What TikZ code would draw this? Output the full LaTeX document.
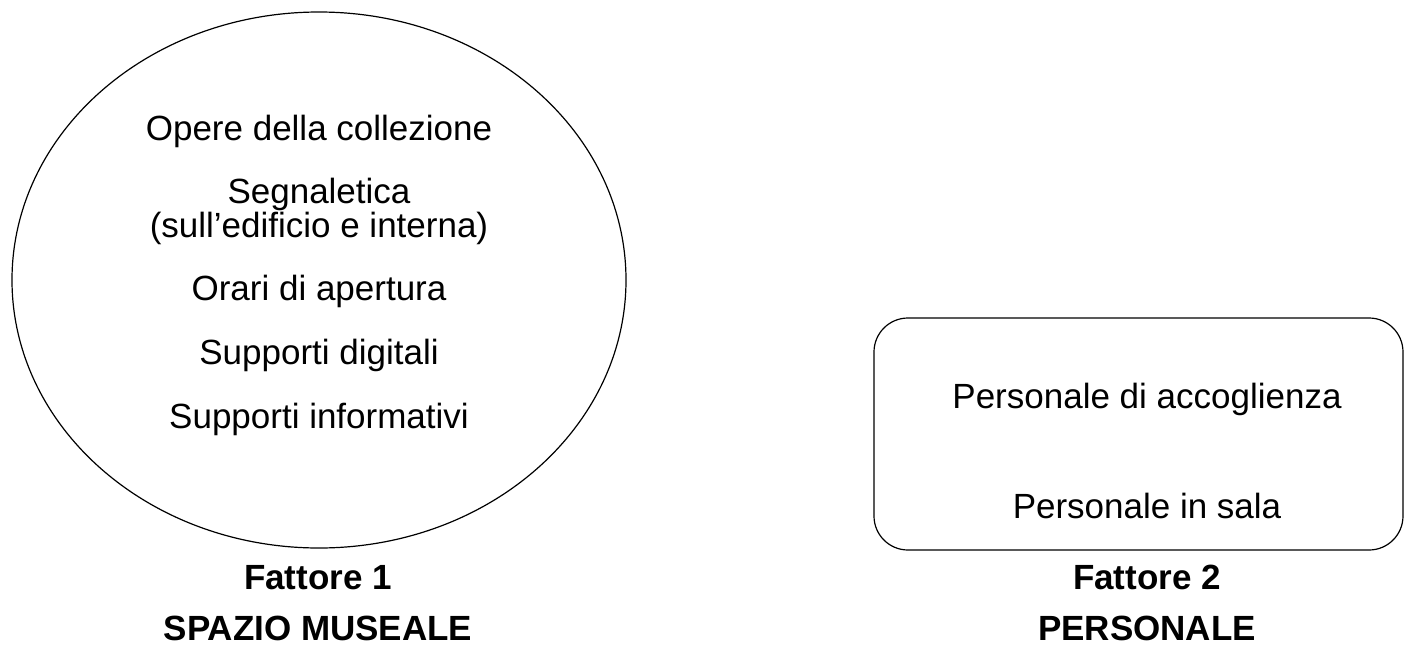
\documentclass[tikz,border=0pt]{standalone}
\usepackage{fontspec}
\setmainfont{Liberation Sans}
\usetikzlibrary{shapes.geometric}

\begin{document}
\begin{tikzpicture}[x=0.5pt,y=-0.5pt,line cap=round,line join=round,
  every node/.style={inner sep=0pt,anchor=base,font=\fontsize{17.5}{19.5}\selectfont},
  voce/.style={align=center},
  titolo/.style={font=\fontsize{17.5}{19.5}\selectfont\bfseries}]
  \useasboundingbox (0,0) rectangle (1405,649);
  % fattore 1
  \node[draw,ellipse,anchor=center,line width=0.6pt,minimum width=307pt,minimum height=268pt] (spazio) at (319,280) {};
  \node[voce] (opere) at (319,140) {Opere della collezione};
  \node[voce] (segnaletica) at (319,203) {Segnaletica};
  \node[voce] (edificio) at (319,237) {(sull'edificio e interna)};
  \node[voce] (orari) at (319,300) {Orari di apertura};
  \node[voce] (digitali) at (319,364) {Supporti digitali};
  \node[voce] (informativi) at (319,428) {Supporti informativi};
  \node[titolo] (fattore1) at (318,589) {Fattore 1};
  \node[titolo] (spaziotit) at (318,640) {SPAZIO MUSEALE};
  % fattore 2
  \node[draw,anchor=center,rounded corners=17pt,line width=0.6pt,minimum width=264.5pt,minimum height=116pt] (personale) at (1138.5,434) {};
  \node[voce] (accoglienza) at (1147,408) {Personale di accoglienza};
  \node[voce] (sala) at (1147,518) {Personale in sala};
  \node[titolo] (fattore2) at (1147,589) {Fattore 2};
  \node[titolo] (personaletit) at (1147,640) {PERSONALE};
\end{tikzpicture}
\end{document}
